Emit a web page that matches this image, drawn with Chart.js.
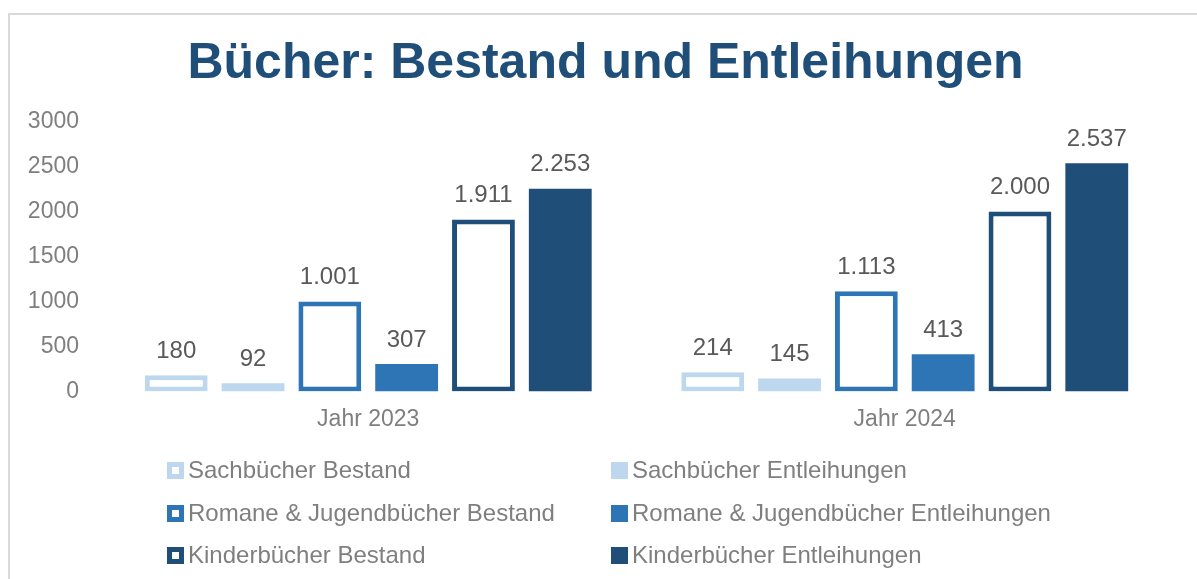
<!DOCTYPE html>
<html>
<head>
<meta charset="utf-8">
<script src="https://cdn.jsdelivr.net/npm/chart.js@4"></script>
<style>
  html, body { margin: 0; padding: 0; background: #fff; }
  #wrap { position: relative; width: 1197px; height: 579px; overflow: hidden; font-family: "Liberation Sans", Arial, sans-serif; }
  #frame { position: absolute; left: 8px; top: 13px; width: 1300px; height: 700px; border: 2px solid #D9D9D9; box-sizing: border-box; }
  canvas { position: absolute; left: 0; top: 0; }
  #title { position: absolute; left: 605.5px; top: 31px; transform: translateX(-50%); white-space: nowrap;
           font: bold 50px/60px "Liberation Sans", Arial, sans-serif; color: #1F4E79; }
  .leg { position: absolute; height: 24px; line-height: 24px; font-size: 24px; color: #7F7F7F; white-space: nowrap; }
  .mk { position: absolute; left: 0; top: 3px; width: 17px; height: 17px; box-sizing: border-box; }
  .leg span.t { position: absolute; left: 21px; top: -1px; }
</style>
</head>
<body>
<div id="wrap">
  <div id="frame"></div>
  <canvas id="c" width="1197" height="579"></canvas>
  <div id="title"></div>
  <div id="legend"></div>
</div>
<script>
const chartTitle = 'Bücher: Bestand und Entleihungen';
const categories = ['Jahr 2023', 'Jahr 2024'];
const seriesNames = [
  'Sachbücher Bestand', 'Sachbücher Entleihungen',
  'Romane & Jugendbücher Bestand', 'Romane & Jugendbücher Entleihungen',
  'Kinderbücher Bestand', 'Kinderbücher Entleihungen'
];
const sachBestand = [180, 214];
const sachEntleihungen = [92, 145];
const romaneBestand = [1001, 1113];
const romaneEntleihungen = [307, 413];
const kinderBestand = [1911, 2000];
const kinderEntleihungen = [2253, 2537];
const yTickValues = [0, 500, 1000, 1500, 2000, 2500, 3000];

const LIGHT = '#BDD7EE', MID = '#2E75B6', DARK = '#1F4E79';
const seriesValues = [sachBestand, sachEntleihungen, romaneBestand, romaneEntleihungen, kinderBestand, kinderEntleihungen];
const seriesColors = [LIGHT, LIGHT, MID, MID, DARK, DARK];
const seriesOutline = [true, false, true, false, true, false];

document.getElementById('title').textContent = chartTitle;

function fmt(v) {
  return String(v).replace(/\B(?=(\d{3})+(?!\d))/g, '.');
}

const datasets = seriesNames.map((name, i) => ({
  label: name,
  data: seriesValues[i],
  backgroundColor: seriesOutline[i] ? '#FFFFFF' : seriesColors[i],
  borderColor: seriesColors[i],
  borderWidth: seriesOutline[i] ? 5 : 0,
  borderSkipped: false,
  categoryPercentage: 0.859,
  barPercentage: 0.818
}));

const labelPlugin = {
  id: 'valueLabels',
  afterDatasetsDraw(chart) {
    const ctx = chart.ctx;
    ctx.save();
    ctx.font = '24px "Liberation Sans", Arial, sans-serif';
    ctx.fillStyle = '#595959';
    ctx.textAlign = 'center';
    ctx.textBaseline = 'middle';
    chart.data.datasets.forEach((ds, di) => {
      const meta = chart.getDatasetMeta(di);
      meta.data.forEach((el, i) => {
        ctx.fillText(fmt(ds.data[i]), el.x, el.y - 24);
      });
    });
    ctx.restore();
  }
};

const chart = new Chart(document.getElementById('c'), {
  type: 'bar',
  data: { labels: categories, datasets },
  options: {
    responsive: false,
    animation: false,
    devicePixelRatio: 1,
    layout: { padding: { left: 14, right: 24, top: 121.6, bottom: 0 } },
    plugins: {
      legend: { display: false },
      tooltip: { enabled: false },
      title: { display: false }
    },
    scales: {
      x: {
        grid: { display: false, drawTicks: false },
        border: { display: false },
        ticks: { color: '#7F7F7F', font: { family: '"Liberation Sans", Arial, sans-serif', size: 23 }, padding: 14 },
        afterFit(s) { s.height = 187.5; }
      },
      y: {
        min: 0, max: 3000,
        afterBuildTicks(s) { s.ticks = yTickValues.map(v => ({ value: v })); },
        grid: { display: false, drawTicks: false },
        border: { display: false },
        ticks: {
          color: '#7F7F7F',
          font: { family: '"Liberation Sans", Arial, sans-serif', size: 23 },
          padding: 21,
          callback: (v) => String(v)
        },
        afterFit(s) { s.width = 86; }
      }
    }
  },
  plugins: [labelPlugin]
});

// HTML legend built from datasets
const legend = document.getElementById('legend');
const colX = [167, 611];
const rowY = [471, 513.5, 555.5];
chart.data.datasets.forEach((ds, i) => {
  const col = i % 2, row = Math.floor(i / 2);
  const item = document.createElement('div');
  item.className = 'leg';
  item.style.left = colX[col] + 'px';
  item.style.top = (rowY[row] - 12) + 'px';
  const mk = document.createElement('div');
  mk.className = 'mk';
  if (seriesOutline[i]) {
    mk.style.background = '#FFFFFF';
    mk.style.border = '5px solid ' + seriesColors[i];
  } else {
    mk.style.background = seriesColors[i];
  }
  const t = document.createElement('span');
  t.className = 't';
  t.textContent = ds.label;
  item.appendChild(mk);
  item.appendChild(t);
  legend.appendChild(item);
});
</script>
</body>
</html>
